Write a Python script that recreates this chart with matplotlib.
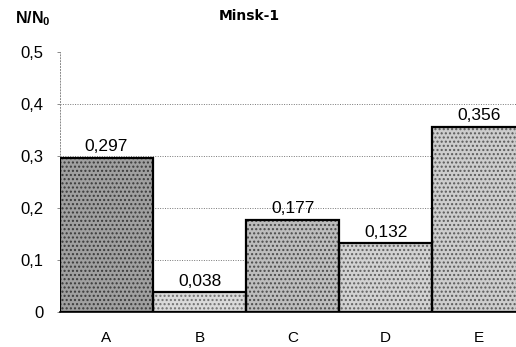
import matplotlib
matplotlib.use("Agg")
import matplotlib.pyplot as plt

categories = ["A", "B", "C", "D", "E"]
values = [0.297, 0.038, 0.177, 0.132, 0.356]
value_labels = ["0,297", "0,038", "0,177", "0,132", "0,356"]
yticks = [0, 0.1, 0.2, 0.3, 0.4, 0.5]
ytick_labels = ["0", "0,1", "0,2", "0,3", "0,4", "0,5"]

face = ["#a0a0a0", "#dadada", "#bdbdbd", "#d2d2d2", "#cdcdcd"]
hatchc = ["#3a3a3a", "#707070", "#4a4a4a", "#606060", "#5a5a5a"]

plt.rcParams['font.family'] = ['Liberation Sans', 'DejaVu Sans']

fig = plt.figure(figsize=(5.16, 3.47), dpi=100)
ax = fig.add_axes([60/516, 35/347, 1 - 60/516, 260/347])

x = list(range(len(categories)))
for i in x:
    ax.bar(i, values[i], width=1.0, color=face[i], edgecolor=hatchc[i],
           hatch='....', linewidth=0, zorder=2)
ax.bar(x, values, width=1.0, fill=False, edgecolor='black', linewidth=1.6, zorder=3)

for i in x:
    ax.text(i, values[i] + 0.007, value_labels[i], ha='center', va='bottom',
            fontsize=12.5, zorder=4)

ax.set_xlim(-0.5, 4.4)
ax.set_ylim(0, 0.5)
ax.set_yticks(yticks)
ax.set_yticklabels(ytick_labels, fontsize=12)
ax.set_xticks(x)
ax.set_xticklabels(categories, fontsize=11)
ax.tick_params(axis='x', length=0, pad=14)
ax.tick_params(axis='y', length=2, width=0.6, color='#777777', pad=10)

for y in yticks[1:5]:
    ax.axhline(y, color='#777777', linestyle=(0, (1, 1.5)), linewidth=0.7, zorder=1)

for s in ['top', 'right']:
    ax.spines[s].set_visible(False)
ax.spines['left'].set_linestyle((0, (1, 2)))
ax.spines['left'].set_color('#888888')
ax.spines['left'].set_linewidth(0.7)
ax.spines['bottom'].set_color('black')
ax.spines['bottom'].set_linewidth(1.2)

fig.text(249/516, 1 - 15.5/347, "Minsk-1", ha='center', va='center',
         fontsize=10, fontweight='bold', family=['DejaVu Sans'])
fig.text(15/516, 1 - 19/347, r"N/N$_\mathregular{0}$", ha='left', va='center',
         fontsize=11.5, fontweight='bold')

fig.savefig("out.png", dpi=100)
